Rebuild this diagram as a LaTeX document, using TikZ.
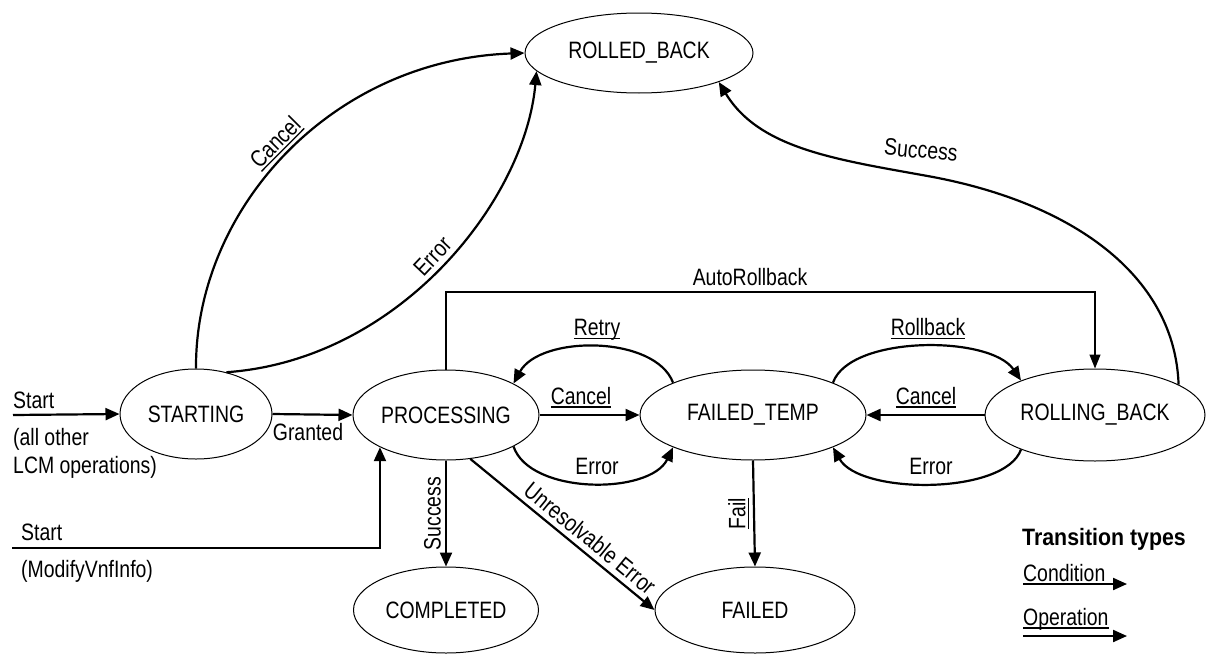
\documentclass[tikz,border=0pt]{standalone}
\usepackage{fontspec}
\setmainfont{Liberation Sans}[FakeStretch=0.82]
\newfontfamily\legendfont{Liberation Sans}[FakeStretch=0.9]
\usetikzlibrary{arrows.meta,shapes.geometric,calc}
\newcommand{\opline}[1]{\setbox0=\hbox{#1}\rlap{\rule[-3.5pt]{\wd0}{1.3pt}}\box0}
\begin{document}
\begin{tikzpicture}[x=1pt,y=-1pt,
  font=\fontsize{23.7}{28}\selectfont,
  state/.style={ellipse, draw, line width=1pt, inner sep=0pt},
  conn/.style={line width=2.2pt, -{Triangle[length=14pt,width=12pt]}},
  thinconn/.style={line width=1.3pt, -{Triangle[length=14pt,width=11pt]}},
  txt/.style={inner sep=0pt, anchor=base west},
  lbl/.style={inner sep=0pt, anchor=base}]
\useasboundingbox (0,0) rectangle (1206,653);

% states
\node[state, minimum width=228pt, minimum height=80pt] (rolledback) at (639,53) {ROLLED\_BACK};
\node[state, minimum width=152pt, minimum height=90pt] (starting) at (196,414) {STARTING};
\node[state, minimum width=186pt, minimum height=90pt] (processing) at (446,415) {PROCESSING};
\node[state, minimum width=226pt, minimum height=90pt] (failedtemp) at (753,415) {FAILED\_TEMP};
\node[state, minimum width=220pt, minimum height=92pt] (rollingback) at (1095,415) {ROLLING\_BACK};
\node[state, minimum width=185pt, minimum height=86pt] (completed) at (446,610) {COMPLETED};
\node[state, minimum width=200pt, minimum height=86pt] (failed) at (755,610) {FAILED};

% start (all other)
\coordinate (s1) at (13,415);
\draw[conn] (s1) -- (starting.west);
\node[txt] (ls1) at (13,408) {Start};
\node[txt] (ls2) at (13,445) {(all other};
\node[txt] (ls3) at (13,473) {LCM operations)};

% start (ModifyVnfInfo)
\coordinate (s2) at (12,548);
\draw[conn] (s2) -| (processing.206);
\node[txt] (ls4) at (21,540) {Start};
\node[txt] (ls5) at (21,577) {(ModifyVnfInfo)};

% granted
\draw[conn] (starting.east) -- (processing.west);
\node[lbl] (lg) at (308,440) {Granted};

% cancel / error to rolled back
\draw[conn] (starting.north) .. controls (195,210) and (330,60) .. (rolledback.west)
  node[pos=0.5, sloped, above, inner sep=4pt] (lc1) {\opline{Cancel}};
\draw[conn] (starting.54) .. controls (400,360) and (525,200) .. (rolledback.190)
  node[pos=0.5, sloped, above, inner sep=4pt] (le1) {Error};

% success rolling back -> rolled back
\coordinate (sc) at (933,177);
\draw[conn] (rollingback.20) .. controls (1175,280) and (1080,205) .. (sc)
  .. controls (840,160) and (760,150) .. (rolledback.340);
\node[rotate=-5] (lsu) at (921,150) {Success};

% autorollback
\coordinate (ar) at (0,292);
\draw[thinconn] (processing.north) -- (processing.north |- ar) -| (rollingback.north);
\node[lbl] (lar) at (750,285.5) {AutoRollback};

% retry / rollback
\draw[conn] (failedtemp.158) .. controls (655,335) and (540,335) .. (processing.25);
\node[lbl] (lr) at (597,335.5) {\opline{Retry}};
\draw[conn] (failedtemp.22) .. controls (850,335) and (990,335) .. (rollingback.155);
\node[lbl] (lrb) at (928,335.5) {\opline{Rollback}};

% cancel middle
\draw[conn] (processing.east) -- (failedtemp.west);
\node[lbl] (lc2) at (581,404) {\opline{Cancel}};
\draw[conn] (rollingback.west) -- (failedtemp.east);
\node[lbl] (lc3) at (926,404) {\opline{Cancel}};

% errors lower
\draw[conn] (processing.335) .. controls (530,495) and (650,495) .. (failedtemp.202);
\node[lbl] (le2) at (597,474) {Error};
\draw[conn] (rollingback.205) .. controls (1005,495) and (860,495) .. (failedtemp.338);
\node[lbl] (le3) at (931,474) {Error};

% success / unresolvable / fail
\draw[conn] (processing.south) -- (completed.north)
  node[midway, rotate=90, anchor=south, inner sep=4pt] (ls) {Success};
\draw[conn] (processing.299) -- (failed.west)
  node[pos=0.6, sloped, above, inner sep=5pt] (lu) {Unresolvable Error};
\draw[conn] (failedtemp.south) -- (failed.north)
  node[midway, rotate=90, anchor=south, inner sep=4pt] (lf) {\opline{Fail}};

% legend
\node[txt, font=\fontsize{23.7}{28}\legendfont\bfseries] (lt) at (1022,545) {Transition types};
\node[txt] (lcond) at (1023,581) {Condition};
\coordinate (c1) at (1023,584);
\coordinate (c2) at (1127,584);
\draw[conn] (c1) -- (c2);
\node[txt] (lop) at (1023,625) {\opline{Operation}};
\coordinate (o1) at (1023,636);
\coordinate (o2) at (1127,636);
\draw[conn] (o1) -- (o2);
\end{tikzpicture}
\end{document}
